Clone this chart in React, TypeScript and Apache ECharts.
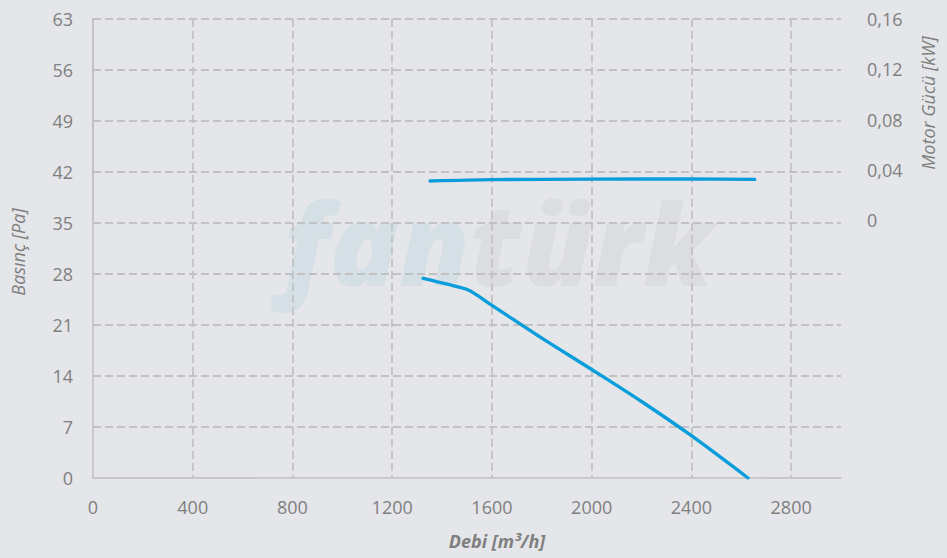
import React, { useEffect, useRef } from "react";
import * as echarts from "echarts";

const xTicks = [0, 400, 800, 1200, 1600, 2000, 2400, 2800];
const yTicksLeft = [0, 7, 14, 21, 28, 35, 42, 49, 56, 63];
const yTicksRight = [0, 0.04, 0.08, 0.12, 0.16];

const flowPressure = [1324, 1420, 1505, 1600, 1800, 2000, 2200, 2400, 2627];
const pressure = [27.4, 26.6, 25.8, 23.7, 19.2, 14.9, 10.5, 5.8, 0];

const flowPower = [1352, 1600, 2000, 2400, 2654];
const power = [0.031, 0.0321, 0.0325, 0.0326, 0.0323];

const xTitle = "Debi [m³/h]";
const yLeftTitle = "Basınç [Pa]";
const yRightTitle = "Motor Gücü [kW]";

const BG = "#e5e6e9";
const GRID = "#c2c2c2";
const AXIS = "#bfbfbf";
const TXT = "#7f7f7f";
const LINE = "#0a9ddb";
const FONT = "'Open Sans', sans-serif";

export default function App() {
  const ref = useRef<HTMLDivElement>(null);
  useEffect(() => {
    document.body.style.margin = "0";
    document.body.style.background = BG;
    const chart = echarts.init(ref.current!, null, { renderer: "svg" });
    const xMax = 3000;
    chart.setOption({
      animation: false,
      backgroundColor: BG,
      textStyle: { fontFamily: FONT },
      grid: [
        { left: 93, right: 106, top: 19, bottom: 80, containLabel: false },
        { left: 93, right: 106, top: 19, height: 201, containLabel: false },
      ],
      xAxis: [
        {
          type: "value",
          gridIndex: 0,
          min: xTicks[0],
          max: xMax,
          interval: 400,
          axisLine: { show: true, lineStyle: { color: AXIS, width: 1.5 } },
          axisTick: { show: false },
          axisLabel: {
            color: TXT,
            fontSize: 18,
            fontFamily: FONT,
            margin: 20,
            showMaxLabel: false,
            formatter: (v: number) => (xTicks.includes(v) ? String(v) : ""),
          },
          splitLine: {
            show: true,
            showMinLine: false,
            showMaxLine: false,
            lineStyle: { color: GRID, type: [8, 4], width: 1.8 },
          },
        },
        {
          type: "value",
          gridIndex: 1,
          min: 0,
          max: xMax,
          show: false,
        },
      ],
      yAxis: [
        {
          type: "value",
          gridIndex: 0,
          min: yTicksLeft[0],
          max: yTicksLeft[yTicksLeft.length - 1],
          interval: 7,
          axisLine: { show: true, lineStyle: { color: AXIS, width: 1.5 } },
          axisTick: { show: false },
          axisLabel: { color: TXT, fontSize: 18, fontFamily: FONT, margin: 20 },
          splitLine: {
            show: true,
            showMinLine: false,
            showMaxLine: true,
            lineStyle: { color: GRID, type: [8, 4], width: 1.8 },
          },
        },
        {
          type: "value",
          gridIndex: 1,
          position: "right",
          offset: 6,
          min: yTicksRight[0],
          max: yTicksRight[yTicksRight.length - 1],
          interval: 0.04,
          axisLine: { show: true, lineStyle: { color: AXIS, width: 1.5 } },
          axisTick: { show: false },
          axisLabel: {
            color: TXT,
            fontSize: 18,
            fontFamily: FONT,
            margin: 20,
            formatter: (v: number) => (v === 0 ? "0" : v.toFixed(2).replace(".", ",")),
          },
          splitLine: { show: false },
        },
      ],
      graphic: [
        {
          type: "text",
          z: -10,
          left: 283,
          top: 184,
          silent: true,
          style: {
            text: "{a|fan}{b|türk}",
            font: `italic 800 114px ${FONT}`,
            rich: {
              a: { fill: "#d4dfe6", fontSize: 114, fontWeight: 800, fontStyle: "italic", fontFamily: FONT },
              b: { fill: "#dbdde0", fontSize: 114, fontWeight: 800, fontStyle: "italic", fontFamily: FONT },
            },
          },
        },
        {
          type: "text",
          x: 497,
          y: 541,
          silent: true,
          style: {
            text: xTitle,
            fill: TXT,
            font: `italic bold 18px ${FONT}`,
            align: "center",
            verticalAlign: "middle",
          },
        },
        {
          type: "text",
          x: 18,
          y: 252,
          rotation: Math.PI / 2,
          silent: true,
          style: {
            text: yLeftTitle,
            fill: TXT,
            font: `italic 18px ${FONT}`,
            align: "center",
            verticalAlign: "middle",
          },
        },
        {
          type: "text",
          x: 928,
          y: 103,
          rotation: Math.PI / 2,
          silent: true,
          style: {
            text: yRightTitle,
            fill: TXT,
            font: `italic 18px ${FONT}`,
            align: "center",
            verticalAlign: "middle",
          },
        },
      ],
      series: [
        {
          type: "line",
          xAxisIndex: 0,
          yAxisIndex: 0,
          data: flowPressure.map((x, i) => [x, pressure[i]]),
          showSymbol: false,
          smooth: 0.3,
          lineStyle: { color: LINE, width: 3.4, cap: "round" },
          z: 5,
        },
        {
          type: "line",
          xAxisIndex: 1,
          yAxisIndex: 1,
          data: flowPower.map((x, i) => [x, power[i]]),
          showSymbol: false,
          smooth: 0.3,
          lineStyle: { color: LINE, width: 3.4, cap: "round" },
          z: 5,
        },
      ],
    });
    return () => chart.dispose();
  }, []);
  return <div ref={ref} style={{ width: 947, height: 558 }} />;
}
